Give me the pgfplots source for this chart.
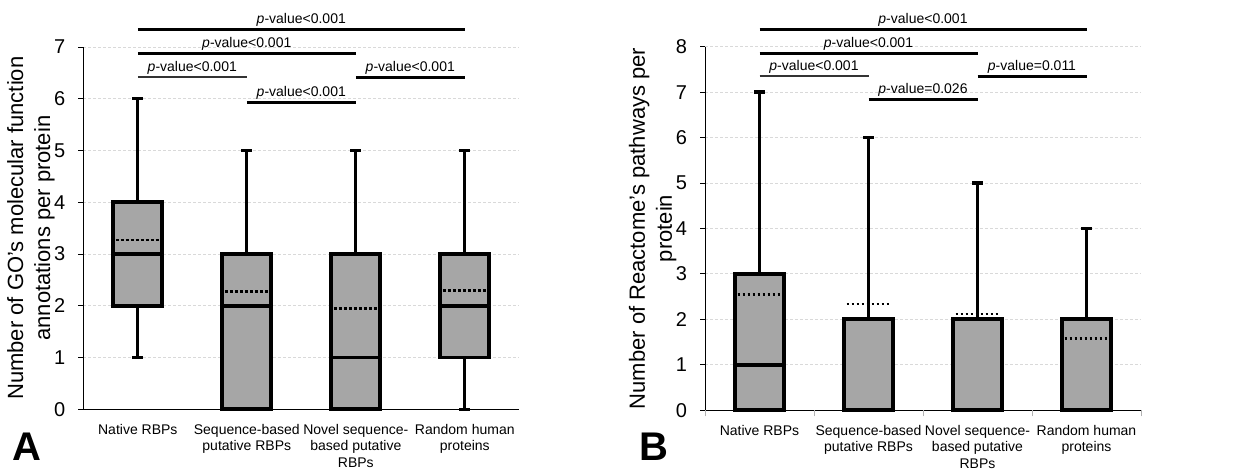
\documentclass[border=0pt]{standalone}
\usepackage{fontspec}
\setmainfont{Liberation Sans}
\usepackage{pgfplots}
\pgfplotsset{compat=1.18}
\usepgfplotslibrary{statistics}
\definecolor{boxgray}{HTML}{A6A6A6}
\definecolor{gridgray}{HTML}{D9D9D9}
\pgfplotsset{
 myaxis/.style={
  scale only axis, width=218pt, xmin=0, xmax=4, ymin=0,
  axis x line=bottom, axis y line=left, axis line style={-, line width=0.5pt},
  clip=false,
  xtick={0.5,1.5,2.5,3.5},
  xticklabels={Native RBPs,{Sequence-based\\putative RBPs},{Novel sequence-\\based putative\\RBPs},{Random human\\proteins}},
  xticklabel style={font=\fontsize{7}{8.2}\selectfont, align=center, yshift=-1.5pt},
  x tick style={draw=none},
  y tick style={black, line width=0.5pt},
  tick align=outside, major tick length=2.5pt,
  yticklabel style={font=\fontsize{10}{12}\selectfont, xshift=-3pt},
  /pgf/number format/assume math mode=true,
  ymajorgrids, grid style={gridgray, dash pattern=on 1.5pt off 1pt, line width=0.5pt},
  ylabel style={font=\fontsize{11}{13.5}\selectfont, align=center, at={(axis description cs:-0.12,0.5)}, anchor=center},
  boxplot/draw direction=y,
  boxplot/box extend=0.45, boxplot/whisker extend=0.1,
  boxplot/every whisker/.style={line width=1.7pt},
  boxplot/every median/.style={line width=1.9pt},
 },
 bx/.style={fill=boxgray, draw=black, line width=1.9pt, solid},
 mn/.style={black, line width=1.4pt, dash pattern=on 1.3pt off 1.2pt},
}
\tikzset{
 sig/.style={line width=1.5pt},
 pv/.style={font=\fontsize{7}{8}\selectfont, above, inner sep=0.8pt},
}
\begin{document}
\begin{tikzpicture}
\path[use as bounding box] (0,0) rectangle (619.5pt,235.5pt);
% ---------------- Panel A
\begin{axis}[myaxis, at={(41.65pt,30.85pt)}, anchor=south west, height=181.15pt,
  ymax=7, ytick={0,1,2,3,4,5,6,7},
  ylabel={Number of GO's molecular function\\annotations per protein}]
\addplot[bx, boxplot prepared={draw position=0.5, lower whisker=1, lower quartile=2, median=3, upper quartile=4, upper whisker=6}] coordinates {};
\addplot[bx, boxplot prepared={draw position=1.5, lower whisker=0, lower quartile=0, median=2, upper quartile=3, upper whisker=5}] coordinates {};
\addplot[bx, boxplot prepared={draw position=2.5, lower whisker=0, lower quartile=0, median=1, upper quartile=3, upper whisker=5}] coordinates {};
\addplot[bx, boxplot prepared={draw position=3.5, lower whisker=0, lower quartile=1, median=2, upper quartile=3, upper whisker=5}] coordinates {};
\addplot[mn] coordinates {(0.3,3.27) (0.7,3.27)};
\addplot[mn] coordinates {(1.3,2.28) (1.7,2.28)};
\addplot[mn] coordinates {(2.3,1.94) (2.7,1.94)};
\addplot[mn] coordinates {(3.3,2.30) (3.7,2.30)};
\draw[sig] (axis cs:0.5,7.34) -- (axis cs:3.5,7.34) node[pv, midway] {\textit{p}-value<0.001};
\draw[sig] (axis cs:0.5,6.88) -- (axis cs:2.5,6.88) node[pv, midway] {\textit{p}-value<0.001};
\draw[line width=1pt, black!80] (axis cs:0.5,6.42) -- (axis cs:1.5,6.42) node[pv, midway, black] {\textit{p}-value<0.001};
\draw[sig] (axis cs:2.5,6.42) -- (axis cs:3.5,6.42) node[pv, midway] {\textit{p}-value<0.001};
\draw[sig] (axis cs:1.5,5.93) -- (axis cs:2.5,5.93) node[pv, midway] {\textit{p}-value<0.001};
\end{axis}
% ---------------- Panel B
\begin{axis}[myaxis, at={(352.5pt,30.35pt)}, anchor=south west, height=181.8pt,
  ymax=8, ytick={0,1,2,3,4,5,6,7,8},
  extra x ticks={0,1,2,3,4}, extra x tick labels={},
  extra x tick style={x tick style={draw=gray!60, line width=0.5pt}, major tick length=3pt},
  ylabel={Number of Reactome's pathways per\\protein}]
\addplot[bx, boxplot prepared={draw position=0.5, lower whisker=0, lower quartile=0, median=1, upper quartile=3, upper whisker=7}] coordinates {};
\addplot[bx, boxplot prepared={draw position=1.5, lower whisker=0, lower quartile=0, median=0, upper quartile=2, upper whisker=6}] coordinates {};
\addplot[bx, boxplot prepared={draw position=2.5, lower whisker=0, lower quartile=0, median=0, upper quartile=2, upper whisker=5}] coordinates {};
\addplot[bx, boxplot prepared={draw position=3.5, lower whisker=0, lower quartile=0, median=0, upper quartile=2, upper whisker=4}] coordinates {};
\addplot[mn] coordinates {(0.3,2.55) (0.7,2.55)};
\addplot[mn] coordinates {(1.3,2.34) (1.7,2.34)};
\addplot[mn] coordinates {(2.3,2.12) (2.7,2.12)};
\addplot[mn] coordinates {(3.3,1.58) (3.7,1.58)};
\draw[sig] (axis cs:0.5,8.37) -- (axis cs:3.5,8.37) node[pv, midway] {\textit{p}-value<0.001};
\draw[sig] (axis cs:0.5,7.85) -- (axis cs:2.5,7.85) node[pv, midway] {\textit{p}-value<0.001};
\draw[line width=1pt, black!80] (axis cs:0.5,7.35) -- (axis cs:1.5,7.35) node[pv, midway, black] {\textit{p}-value<0.001};
\draw[sig] (axis cs:2.5,7.35) -- (axis cs:3.5,7.35) node[pv, midway] {\textit{p}-value=0.011};
\draw[sig] (axis cs:1.5,6.83) -- (axis cs:2.5,6.83) node[pv, midway] {\textit{p}-value=0.026};
\end{axis}
\node[font=\fontsize{20}{24}\selectfont\bfseries] at (13.5pt,12pt) {A};
\node[font=\fontsize{20}{24}\selectfont\bfseries] at (327pt,12pt) {B};
\end{tikzpicture}
\end{document}
